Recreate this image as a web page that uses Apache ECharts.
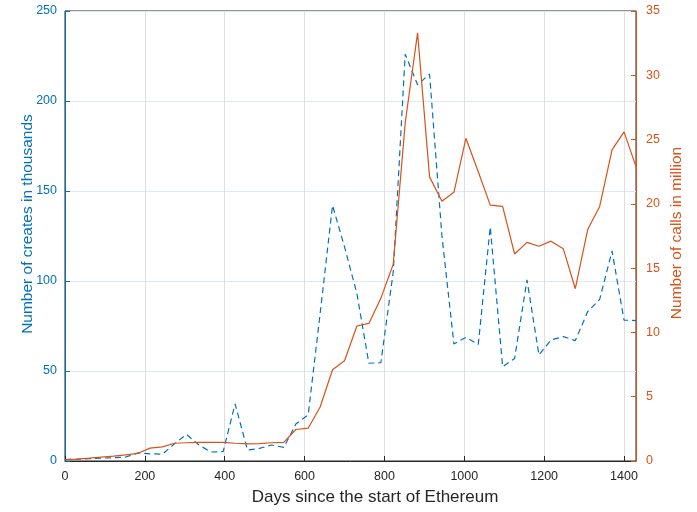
<!DOCTYPE html>
<html><head><meta charset="utf-8">
<script src="https://cdn.jsdelivr.net/npm/echarts@6/dist/echarts.min.js"></script>
<style>html,body{margin:0;padding:0;background:#fff}#c{width:697px;height:512px}</style>
</head><body><div id="c"></div>
<script>
var days = [0,30,61,91,122,152,183,213,244,274,304,335,365,396,426,457,487,517,548,578,609,639,670,700,731,761,791,822,852,883,913,944,974,1004,1035,1065,1096,1126,1157,1187,1217,1248,1278,1309,1339,1370,1400,1430];
var creates = [0.8,1.0,1.3,1.6,1.8,2.2,4.5,4.0,3.8,9.5,14.8,9.0,5.0,5.2,31.7,6.1,7.0,8.9,7.6,20.5,25.6,82,142,119,93,54.3,54.6,105,226,209,215,125,65,68.7,64.8,130,52.4,57,100.6,58.9,67.2,69.1,66.9,83,89.8,116.7,78.3,78];
var calls = [0.1,0.15,0.22,0.3,0.38,0.48,0.6,1.0,1.1,1.38,1.42,1.45,1.45,1.45,1.38,1.33,1.35,1.42,1.45,2.45,2.55,4.2,7.1,7.8,10.5,10.7,12.65,15.3,26.3,33.3,22.1,20.2,20.9,25.1,22.5,19.9,19.8,16.1,17.0,16.7,17.1,16.5,13.4,18.0,19.8,24.2,25.6,22.9];
var xTitle = 'Days since the start of Ethereum';
var yLeftTitle = 'Number of creates in thousands';
var yRightTitle = 'Number of calls in million';

var BLUE = '#0072BD', ORANGE = '#D95319', DARK = '#262626';
var FONT = '"Liberation Sans", Arial, Helvetica, sans-serif';
function pairs(xs, ys){ return xs.map(function(x,i){ return [x, ys[i]]; }); }
function plain(v){ return String(v); }

var chart = echarts.init(document.getElementById('c'), null, {renderer:'canvas'});
chart.setOption({
  animation: false,
  backgroundColor: '#fff',
  grid: {left: 65, right: 61, top: 11, bottom: 51, show: true, borderColor: DARK, borderWidth: 1, backgroundColor: 'transparent'},
  xAxis: {
    type: 'value', min: 0, max: 1430, interval: 200,
    axisLine: {show: true, onZero: false, lineStyle: {color: DARK, width: 1}},
    axisTick: {show: true, inside: true, length: 5, lineStyle: {color: DARK}},
    axisLabel: {color: DARK, fontSize: 12.5, fontFamily: FONT, margin: 9, showMaxLabel: false, formatter: plain},
    splitLine: {show: true, lineStyle: {color: '#dfdfdf', width: 1}}
  },
  yAxis: [{
    type: 'value', min: 0, max: 250, interval: 50, position: 'left',
    axisLine: {show: true, lineStyle: {color: BLUE, width: 1}},
    axisTick: {show: true, inside: true, length: 5, lineStyle: {color: BLUE}},
    axisLabel: {color: BLUE, fontSize: 12.5, fontFamily: FONT, margin: 8, formatter: plain},
    splitLine: {show: true, lineStyle: {color: '#dae9f5', width: 1}}
  },{
    type: 'value', min: 0, max: 35, interval: 5, position: 'right',
    axisLine: {show: true, lineStyle: {color: ORANGE, width: 1}},
    axisTick: {show: true, inside: true, length: 5, lineStyle: {color: ORANGE}},
    axisLabel: {color: ORANGE, fontSize: 12.5, fontFamily: FONT, margin: 10, formatter: plain},
    splitLine: {show: false}
  }],
  series: [{
    type: 'line', yAxisIndex: 0, data: pairs(days, creates), showSymbol: false, symbol: 'none',
    lineStyle: {color: BLUE, width: 1.2, type: [6, 4]}, z: 3
  },{
    type: 'line', yAxisIndex: 1, data: pairs(days, calls), showSymbol: false, symbol: 'none',
    lineStyle: {color: ORANGE, width: 1.2}, z: 4
  }],
  graphic: [
    {type: 'text', x: 375, y: 497, style: {text: xTitle, fill: DARK, font: '17px ' + FONT, align: 'center', verticalAlign: 'middle'}},
    {type: 'text', x: 27.5, y: 224, rotation: Math.PI/2, style: {text: yLeftTitle, fill: BLUE, font: '15.5px ' + FONT, align: 'center', verticalAlign: 'middle'}},
    {type: 'text', x: 677, y: 233, rotation: Math.PI/2, style: {text: yRightTitle, fill: ORANGE, font: '15.5px ' + FONT, align: 'center', verticalAlign: 'middle'}}
  ]
});
</script></body></html>
